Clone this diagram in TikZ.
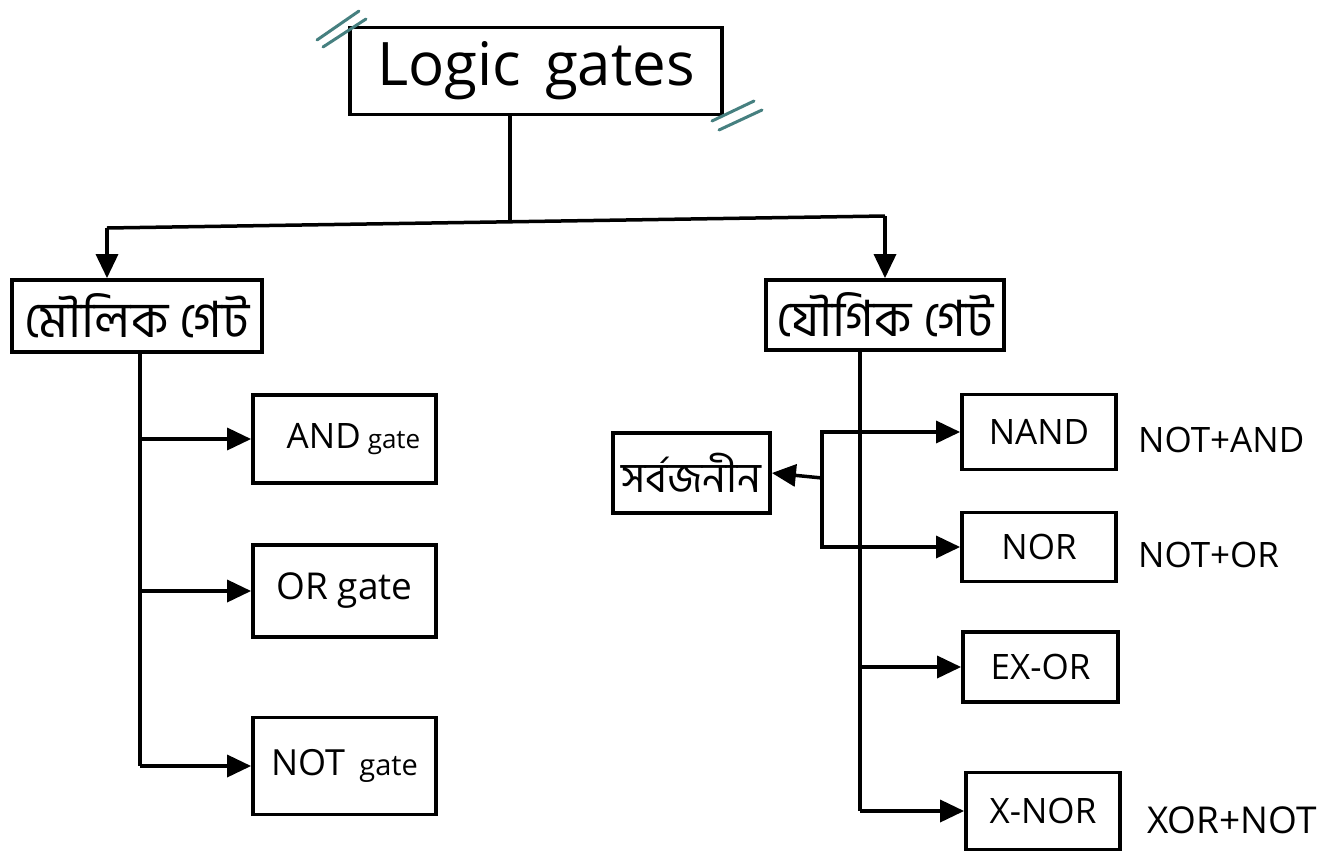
\documentclass[tikz,border=0pt]{standalone}
\usepackage{fontspec}
\setmainfont{Open Sans}
\newfontfamily\bnfont[Script=Bengali]{Hind Siliguri}
\usetikzlibrary{arrows.meta}

\tikzset{
  gatebox/.style={draw, line width=3.8pt, inner sep=0pt, align=center},
  conn/.style={line width=3.5pt},
  arr/.style={conn, -{Triangle[length=24pt,width=22pt]}},
  sidenote/.style={anchor=west, inner sep=0pt, font=\fontsize{35}{37}\selectfont},
  tick/.style={line width=3pt, color=teal!45!gray, line cap=round}
}

\begin{document}
\begin{tikzpicture}[x=1pt, y=-1pt]
  \useasboundingbox (0,0) rectangle (1328,852);
  \fill[white] (0,0) rectangle (1328,852);

  % root
  \node[gatebox, minimum width=372pt, minimum height=87pt,
        font=\fontsize{60}{62}\selectfont] (top) at (536,71) {Logic\hspace{0.4em}gates};
  \draw[tick] (317,40) -- (359,11);
  \draw[tick] (323,47) -- (366,19);
  \draw[tick] (712,121) -- (754,101);
  \draw[tick] (719,130) -- (762,110);

  % first level
  \node[gatebox, minimum width=250pt, minimum height=72pt,
        font=\bnfont\fontsize{50}{52}\selectfont] (mou) at (137,316) {মৌলিক গেট};
  \node[gatebox, minimum width=238pt, minimum height=70pt,
        font=\bnfont\fontsize{50}{52}\selectfont] (jou) at (885,315) {যৌগিক গেট};

  % basic gates
  \node[gatebox, minimum width=183pt, minimum height=88pt,
        font=\fontsize{35}{37}\selectfont] (andg) at (344.5,439)
        {\hspace{18pt}AND\hspace{0.2em}{\fontsize{26}{28}\selectfont gate}};
  \node[gatebox, minimum width=183pt, minimum height=92pt,
        font=\fontsize{37}{39}\selectfont] (org) at (344.5,591) {OR gate};
  \node[gatebox, minimum width=183pt, minimum height=97pt,
        font=\fontsize{36}{38}\selectfont] (notg) at (344.5,766)
        {NOT\hspace{0.4em}{\fontsize{29}{31}\selectfont gate}};

  % compound gates
  \node[gatebox, minimum width=157pt, minimum height=80pt,
        font=\bnfont\fontsize{42}{44}\selectfont] (sarb) at (691.5,473) {সর্বজনীন};
  \node[gatebox, minimum width=154pt, minimum height=75pt,
        font=\fontsize{35}{37}\selectfont] (nand) at (1039,432) {NAND};
  \node[gatebox, minimum width=154pt, minimum height=69pt,
        font=\fontsize{35}{37}\selectfont] (nor) at (1039,547) {NOR};
  \node[gatebox, minimum width=155pt, minimum height=70pt,
        font=\fontsize{35}{37}\selectfont] (exor) at (1040.5,667) {EX-OR};
  \node[gatebox, minimum width=154pt, minimum height=77pt,
        font=\fontsize{35}{37}\selectfont] (xnor) at (1043,811) {X-NOR};

  \node[sidenote] (n1) at (1138,440) {NOT+AND};
  \node[sidenote] (n2) at (1138,555) {NOT+OR};
  \node[sidenote, font=\fontsize{37}{39}\selectfont] (n3) at (1147,820) {XOR+NOT};

  % root split
  \coordinate (j)  at (510,222);
  \coordinate (lj) at (107,228);
  \coordinate (rj) at (885,216);
  \draw[conn] (top.south -| j) -- (j);
  \draw[conn] (lj) -- (rj);
  \draw[arr] (lj) -- (lj |- mou.north);
  \draw[arr] (rj) -- (rj |- jou.north);

  % basic branch
  \coordinate (ml) at (140,766);
  \draw[conn] (ml |- mou.south) -- (ml);
  \draw[arr] (ml |- andg.west) -- (andg.west);
  \draw[arr] (ml |- org.west) -- (org.west);
  \draw[arr] (ml) -- (notg.west);

  % compound branch
  \coordinate (jr) at (860,811);
  \draw[conn] (jr |- jou.south) -- (jr);
  \draw[arr] (jr |- exor.west) -- (exor.west);
  \draw[arr] (jr) -- (xnor.west);

  % universal bracket
  \coordinate (b) at (822,478);
  \draw[arr] (b) -- (sarb.east);
  \draw[arr] (b) |- (nand.west);
  \draw[arr] (b) |- (nor.west);
\end{tikzpicture}
\end{document}
